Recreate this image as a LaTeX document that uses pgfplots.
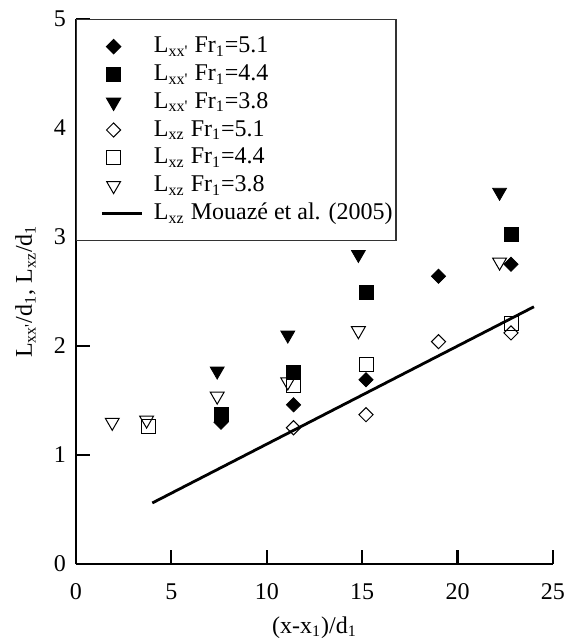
\documentclass[border=0pt]{standalone}
\usepackage{fontspec}
\setmainfont{Liberation Serif}
\usepackage{pgfplots}
\pgfplotsset{compat=1.18}

\pgfplotsset{
  dotlegend/.style={legend image code/.code={%
      \path (0pt,0pt) (37.3pt,0pt);
      \draw[##1] plot coordinates {(17.8pt,0pt)};}},
  linelegend/.style={legend image code/.code={%
      \path (0pt,0pt) (37.3pt,0pt);
      \draw[##1] (12pt,0pt) -- (32pt,0pt);}},
  hollow/.style={mark options={draw=black, line width=0.5pt, fill=none, #1}},
}
% legend text padded to a fixed width so the box ends at the same place
\newcommand\legtext[1]{\makebox[121pt][l]{#1}}

\begin{document}
\begin{tikzpicture}[font=\fontsize{12pt}{14pt}\selectfont]
\begin{axis}[
  scale only axis, width=238.5pt, height=272.5pt,
  xmin=0, xmax=25, ymin=0, ymax=5, enlargelimits=false,
  axis x line=bottom, axis y line=left,
  axis line style={-, line width=0.8pt, black},
  tick align=inside, major tick length=7pt,
  tick style={line width=1.1pt, black},
  xtick={0,5,...,25}, ytick={0,1,...,5}, minor tick num=0,
  /pgf/number format/assume math mode=true,
  tick label style={font=\fontsize{12pt}{14pt}\selectfont},
  xticklabel style={yshift=-6.3pt},
  yticklabel style={xshift=-1.5pt},
  xlabel={(x-x\textsubscript{1})/d\textsubscript{1}},
  ylabel={L\textsubscript{xx\textquotesingle}/d\textsubscript{1}, L\textsubscript{xz}/d\textsubscript{1}},
  xlabel style={at={(axis description cs:0.5,0)}, anchor=base, yshift=-34.5pt, inner sep=0pt},
  ylabel style={at={(axis description cs:0,0.5)}, anchor=base, yshift=22pt, inner sep=0pt},
  legend cell align=left,
  legend style={at={(0,1)}, anchor=north west, draw=black!80, line width=0.6pt,
    fill=white, inner xsep=0pt, inner ysep=7.5pt, row sep=1.9pt, column sep=0pt,
    nodes={inner sep=0pt, text height=9pt, text depth=3pt},
    font=\fontsize{12pt}{14pt}\selectfont},
]

% L_xx' series (filled marks)
\addplot[only marks, mark=square*, mark size=2.5pt,
  mark options={rotate=45, draw=black, fill=black}, dotlegend]
  coordinates {(7.6,1.30) (11.4,1.46) (15.2,1.69) (19.0,2.64) (22.8,2.75)};
\addlegendentry{\legtext{L\textsubscript{xx\textquotesingle} Fr\textsubscript{1}=5.1}}

\addplot[only marks, mark=square*, mark size=3.5pt,
  mark options={draw=black, fill=black}, dotlegend]
  coordinates {(7.6,1.37) (11.4,1.76) (15.2,2.49) (22.8,3.02)};
\addlegendentry{\legtext{L\textsubscript{xx\textquotesingle} Fr\textsubscript{1}=4.4}}

\addplot[only marks, mark=triangle*, mark size=4pt,
  mark options={rotate=180, draw=black, fill=black}, dotlegend]
  coordinates {(7.4,1.77) (11.1,2.10) (14.8,2.84) (22.2,3.41)};
\addlegendentry{\legtext{L\textsubscript{xx\textquotesingle} Fr\textsubscript{1}=3.8}}

% L_xz series (open marks)
\addplot[only marks, mark=square, mark size=2.5pt,
  hollow={rotate=45}, dotlegend]
  coordinates {(11.4,1.25) (15.2,1.37) (19.0,2.04) (22.8,2.12)};
\addlegendentry{\legtext{L\textsubscript{xz} Fr\textsubscript{1}=5.1}}

\addplot[only marks, mark=square, mark size=3.5pt,
  hollow={}, dotlegend]
  coordinates {(3.8,1.26) (11.4,1.64) (15.2,1.83) (22.8,2.21)};
\addlegendentry{\legtext{L\textsubscript{xz} Fr\textsubscript{1}=4.4}}

\addplot[only marks, mark=triangle, mark size=4pt,
  hollow={rotate=180}, dotlegend]
  coordinates {(1.9,1.30) (3.7,1.32) (7.4,1.54) (11.1,1.67) (14.8,2.14) (22.2,2.77)};
\addlegendentry{\legtext{L\textsubscript{xz} Fr\textsubscript{1}=3.8}}

% Mouaze et al. (2005) relation
\addplot[black, line width=1.4pt, linelegend]
  coordinates {(4,0.56) (24,2.36)};
\addlegendentry{\legtext{L\textsubscript{xz} Mouazé et al. (2005)}}

\end{axis}
\pgfresetboundingbox
\path ([xshift=-38pt,yshift=-37.5pt]current axis.south west)
  rectangle ([xshift=7.5pt,yshift=9.5pt]current axis.north east);
\end{tikzpicture}
\end{document}
